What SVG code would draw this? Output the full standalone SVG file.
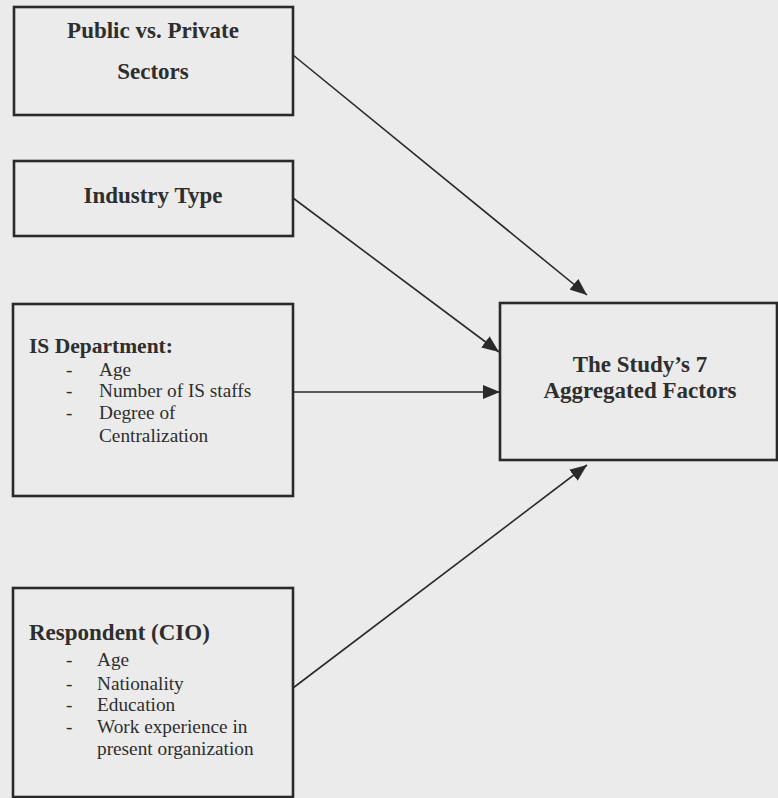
<svg xmlns="http://www.w3.org/2000/svg" width="778" height="798" viewBox="0 0 778 798">
<style>
.box{fill:none;stroke:#2a2a2a;stroke-width:2.6}
.con{fill:none;stroke:#2a2a2a;stroke-width:1.6}
.h{font-family:"Liberation Serif","Times New Roman",serif;font-weight:bold;font-size:23px;fill:#2e2e2e}
.t{font-family:"Liberation Serif","Times New Roman",serif;font-size:19.3px;fill:#2e2e2e}
.c{text-anchor:middle}
</style>
<defs>
<marker id="ah" markerUnits="userSpaceOnUse" markerWidth="18" markerHeight="14" refX="17" refY="7" orient="auto">
<path d="M0,0 L17,7 L0,14 Z" fill="#2a2a2a"/>
</marker>
</defs>
<rect width="778" height="798" fill="#ebebeb"/>
<g id="n1">
<rect class="box" x="14" y="7" width="279" height="108"/>
<text class="h c" x="153" y="38">Public vs. Private</text>
<text class="h c" x="153" y="79">Sectors</text>
</g>
<g id="n2">
<rect class="box" x="14" y="161" width="279" height="75"/>
<text class="h c" x="153" y="203">Industry Type</text>
</g>
<g id="n3">
<rect class="box" x="13" y="304" width="280" height="192"/>
<text class="h" x="29" y="353" style="font-size:21.5px">IS Department:</text>
<text class="t" x="66" y="376">-</text><text class="t" x="99" y="376">Age</text>
<text class="t" x="66" y="397">-</text><text class="t" x="99" y="397">Number of IS staffs</text>
<text class="t" x="66" y="419">-</text><text class="t" x="99" y="419">Degree of</text>
<text class="t" x="99" y="442">Centralization</text>
</g>
<g id="n4">
<rect class="box" x="13" y="588" width="280" height="209"/>
<text class="h" x="29" y="640">Respondent (CIO)</text>
<text class="t" x="66" y="666">-</text><text class="t" x="97" y="666">Age</text>
<text class="t" x="66" y="690">-</text><text class="t" x="97" y="690">Nationality</text>
<text class="t" x="66" y="711">-</text><text class="t" x="97" y="711">Education</text>
<text class="t" x="66" y="733">-</text><text class="t" x="97" y="733">Work experience in</text>
<text class="t" x="97" y="755">present organization</text>
</g>
<g id="target">
<rect class="box" x="500" y="303" width="277" height="157"/>
<text class="h c" x="640" y="372">The Study’s 7</text>
<text class="h c" x="640" y="398">Aggregated Factors</text>
</g>
<g id="connectors">
<line class="con" x1="293" y1="55" x2="587" y2="295" marker-end="url(#ah)"/>
<line class="con" x1="293" y1="198" x2="499" y2="352" marker-end="url(#ah)"/>
<line class="con" x1="293" y1="392" x2="500" y2="392" marker-end="url(#ah)"/>
<line class="con" x1="293" y1="688" x2="587" y2="465" marker-end="url(#ah)"/>
</g>
</svg>
